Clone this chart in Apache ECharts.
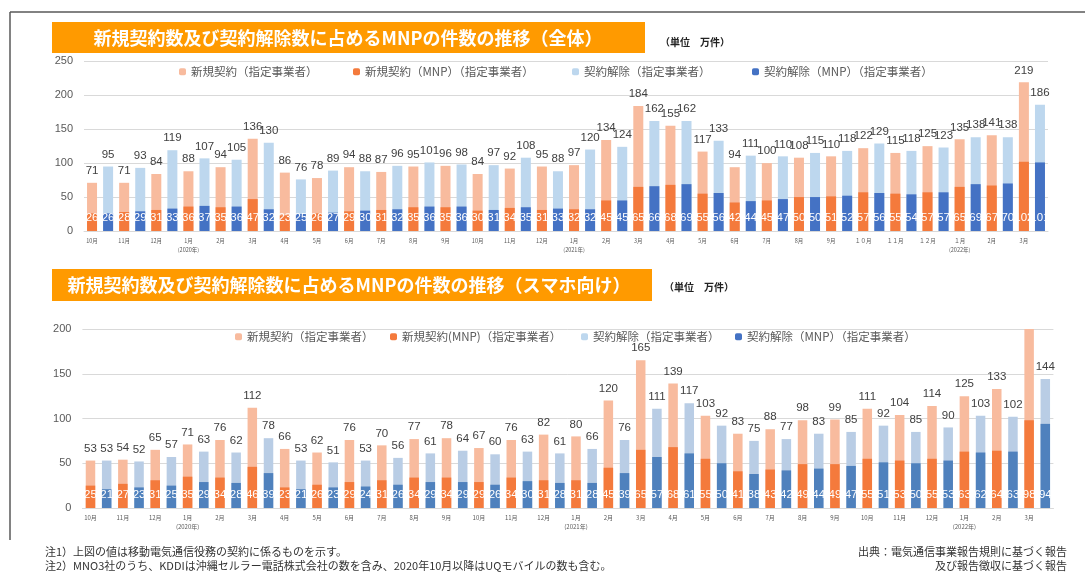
<!DOCTYPE html>
<html><head><meta charset="utf-8">
<script src="https://cdn.jsdelivr.net/npm/echarts@6/dist/echarts.min.js"></script>
<style>html,body{margin:0;padding:0;background:#fff}#c{width:1085px;height:579px}</style>
</head><body><div id="c"></div>
<script>
// ---- data ----
const months = ['10月','11月','12月','1月','2月','3月','4月','5月','6月','7月','8月','9月','10月','11月','12月','1月','2月','3月','4月','5月','6月','7月','8月','9月','10月','11月','12月','1月','2月','3月'];
const topMonths = ['10月','11月','12月','1月','2月','3月','4月','5月','6月','7月','8月','9月','10月','11月','12月','1月','2月','3月','4月','5月','6月','7月','8月','9月','１０月','１１月','１２月','１月','2月','3月'];
const yearTags = ['','','','(2020年)','','','','','','','','','','','','(2021年)','','','','','','','','','','','','(2022年)','',''];
const legendNamesTop = ['新規契約（指定事業者）','新規契約（MNP）（指定事業者）','契約解除（指定事業者）','契約解除（MNP）（指定事業者）'];
const legendNamesBottom = ['新規契約（指定事業者）','新規契約(MNP)（指定事業者）','契約解除（指定事業者）','契約解除（MNP）（指定事業者）'];
const titleTop = '新規契約数及び契約解除数に占めるMNPの件数の推移（全体）';
const titleBottom = '新規契約数及び契約解除数に占めるMNPの件数の推移（スマホ向け）';
const unitText = '（単位　万件）';
const yTicksTop = [0, 250, 50];
const yTicksBottom = [0, 200, 50];

// 全体
const topNewTotal = [71,71,84,88,94,136,86,78,94,87,95,96,84,92,95,97,134,184,155,117,94,100,108,110,122,115,125,135,141,219];
const topNewMNP = [26,28,31,36,35,47,23,26,29,31,35,35,30,34,31,32,45,65,68,55,42,45,50,51,57,55,57,65,67,102];
const topCancelTotal = [95,93,119,107,105,130,76,89,88,96,101,98,97,108,88,120,124,162,162,133,111,110,115,118,129,118,123,138,138,186];
const topCancelMNP = [26,29,33,37,36,32,25,27,30,32,36,36,31,35,33,32,45,66,69,56,44,47,50,52,56,54,57,69,70,101];

// スマホ向け
const botNewTotal = [53,54,65,71,76,112,66,62,76,70,77,78,67,76,82,80,120,165,139,103,83,88,98,99,111,104,114,125,133,210];
const botNewMNP = [25,27,31,35,34,46,23,26,29,31,34,34,29,34,31,31,45,65,68,55,41,43,49,49,55,53,55,63,64,98];
const botCancelTotal = [53,52,57,63,62,78,53,51,53,56,61,64,60,63,61,66,76,111,117,92,75,77,83,85,92,85,90,103,102,144];
const botCancelMNP = [21,23,25,29,28,39,21,23,24,26,29,29,26,30,28,28,39,57,61,50,38,42,44,47,51,50,53,62,63,94];

const footL1 = '注1）上図の値は移動電気通信役務の契約に係るものを示す。';
const footL2 = '注2）MNO3社のうち、KDDIは沖縄セルラー電話株式会社の数を含み、2020年10月以降はUQモバイルの数も含む。';
const footR1 = '出典：電気通信事業報告規則に基づく報告';
const footR2 = '及び報告徴収に基づく報告';

// ---- build ----
const JP = '"Noto Sans CJK JP", sans-serif';
const NUM = '"Liberation Sans", Arial, sans-serif';
const cats = [];
months.forEach((m, i) => { cats.push('n' + i); cats.push('c' + i); });
function spread(arr, offset, hideAboveMax) {
  const out = [];
  arr.forEach(v => {
    const item = (hideAboveMax != null && v > hideAboveMax) ? {value: v, label: {show: false}} : v;
    if (offset === 0) { out.push(item); out.push('-'); } else { out.push('-'); out.push(item); }
  });
  return out;
}
function bar(name, data, color, idx, isTotal, bw) {
  return {
    type: 'bar', name, data, xAxisIndex: idx, yAxisIndex: idx,
    barWidth: bw, barGap: '-100%', clip: true,
    itemStyle: {color},
    label: isTotal ? {show: true, position: 'top', distance: 6, color: '#404040', fontSize: 11.5, fontFamily: NUM}
                   : {show: true, position: 'insideBottom', distance: 7, color: '#ffffff', fontSize: 11.5, fontFamily: NUM},
    emphasis: {disabled: true}
  };
}
function xAxis(idx, labels, fs, margin) {
  return {
    type: 'category', gridIndex: idx, data: cats,
    axisLine: {lineStyle: {color: '#d9d9d9'}}, axisTick: {show: false},
    axisLabel: {
      interval: 0, fontSize: fs, color: '#595959', margin, fontFamily: JP, lineHeight: fs + 3,
      formatter: (v, i) => {
        if (i % 2 === 1) return '';
        const k = i / 2;
        return yearTags[k] ? labels[k] + '\n' + yearTags[k] : labels[k];
      }
    }
  };
}
function yAxis(idx, t) {
  return {
    type: 'value', gridIndex: idx, min: t[0], max: t[1], interval: t[2],
    axisLine: {show: false}, axisTick: {show: false},
    splitLine: {lineStyle: {color: '#d9d9d9'}},
    axisLabel: {color: '#595959', fontSize: 11, fontFamily: NUM, margin: 11}
  };
}
const cTop = ['#F8BB9E', '#F47A3C', '#BDD7EE', '#4472C4'];
const cBot = ['#F8BB9E', '#F47A3C', '#B9CDE5', '#4F81BD'];

const legendsTop = [179, 353, 572, 752].map((x, i) => ({
  data: [legendNamesTop[i]], left: x, top: 66, padding: 0, itemWidth: 7, itemHeight: 7, itemGap: 4,
  selectedMode: false, textStyle: {color: '#595959', fontSize: 11.5, fontFamily: JP}
}));
const legendsBot = [235, 390, 581, 735].map((x, i) => ({
  data: [legendNamesBottom[i]], left: x, top: 331, padding: 0, itemWidth: 7, itemHeight: 7, itemGap: 4,
  selectedMode: false, textStyle: {color: '#595959', fontSize: 11.5, fontFamily: JP}
}));

const option = {
  animation: false,
  textStyle: {fontFamily: JP},
  grid: [
    {left: 84, top: 61.3, width: 964, height: 169.7},
    {left: 82.4, top: 329, width: 971, height: 179}
  ],
  xAxis: [xAxis(0, topMonths, 5.5, 6), xAxis(1, months, 6, 5)],
  yAxis: [yAxis(0, yTicksTop), yAxis(1, yTicksBottom)],
  legend: legendsTop.concat(legendsBot),
  series: [
    bar(legendNamesTop[0], spread(topNewTotal, 0), cTop[0], 0, true, 10),
    bar(legendNamesTop[1], spread(topNewMNP, 0), cTop[1], 0, false, 10),
    bar(legendNamesTop[2], spread(topCancelTotal, 1), cTop[2], 0, true, 10),
    bar(legendNamesTop[3], spread(topCancelMNP, 1), cTop[3], 0, false, 10),
    bar(legendNamesBottom[0], spread(botNewTotal, 0, 200), cBot[0], 1, true, 9.5),
    bar(legendNamesBottom[1], spread(botNewMNP, 0), cBot[1], 1, false, 9.5),
    bar(legendNamesBottom[2], spread(botCancelTotal, 1), cBot[2], 1, true, 9.5),
    bar(legendNamesBottom[3], spread(botCancelMNP, 1), cBot[3], 1, false, 9.5)
  ],
  graphic: [
    {type: 'line', shape: {x1: 10, y1: 12, x2: 1085, y2: 12}, style: {stroke: '#595959', lineWidth: 1.5}},
    {type: 'line', shape: {x1: 10, y1: 12, x2: 10, y2: 540}, style: {stroke: '#595959', lineWidth: 1.5}},
    {type: 'rect', shape: {x: 52, y: 22, width: 593, height: 31}, style: {fill: '#FF9A00'}},
    {type: 'text', x: 348, y: 38, style: {text: titleTop, fill: '#fff', fontSize: 18, fontWeight: 'bold', fontFamily: JP, align: 'center', verticalAlign: 'middle'}},
    {type: 'text', x: 660, y: 42, style: {text: unitText, fill: '#222', fontSize: 10, fontWeight: 'bold', fontFamily: JP, align: 'left', verticalAlign: 'middle'}},
    {type: 'rect', shape: {x: 52, y: 269, width: 600, height: 32}, style: {fill: '#FF9A00'}},
    {type: 'text', x: 349, y: 285, style: {text: titleBottom, fill: '#fff', fontSize: 18, fontWeight: 'bold', fontFamily: JP, align: 'center', verticalAlign: 'middle'}},
    {type: 'text', x: 664, y: 287, style: {text: unitText, fill: '#222', fontSize: 10, fontWeight: 'bold', fontFamily: JP, align: 'left', verticalAlign: 'middle'}},
    {type: 'text', x: 45, y: 552, style: {text: footL1, fill: '#333', fontSize: 11, fontFamily: JP, align: 'left', verticalAlign: 'middle'}},
    {type: 'text', x: 45, y: 566, style: {text: footL2, fill: '#333', fontSize: 11, fontFamily: JP, align: 'left', verticalAlign: 'middle'}},
    {type: 'text', x: 1067, y: 552, style: {text: footR1, fill: '#333', fontSize: 11, fontFamily: JP, align: 'right', verticalAlign: 'middle'}},
    {type: 'text', x: 1067, y: 566, style: {text: footR2, fill: '#333', fontSize: 11, fontFamily: JP, align: 'right', verticalAlign: 'middle'}}
  ]
};
const chart = echarts.init(document.getElementById('c'), null, {renderer: 'canvas'});
chart.setOption(option);
</script></body></html>
